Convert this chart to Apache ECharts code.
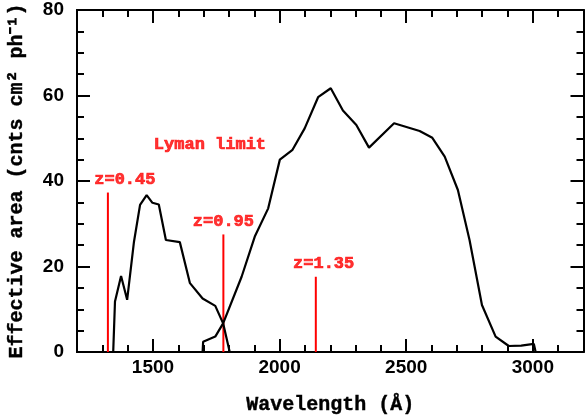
<!DOCTYPE html>
<html>
<head>
<meta charset="utf-8">
<script src="https://cdn.jsdelivr.net/npm/echarts@6/dist/echarts.min.js"></script>
<style>
  html, body { margin: 0; padding: 0; background: #fff; }
  #chart { width: 585px; height: 419px; }
</style>
</head>
<body>
<div id="chart"></div>
<script>
// effective area curves, [wavelength (A), area]
const lowBand = [[1343, 0], [1350, 11.8], [1374, 17.8], [1398, 12.2], [1425, 25.8], [1449, 34.4],
  [1475, 36.7], [1498, 34.9], [1523, 34.5], [1551, 26.2], [1606, 25.7], [1646, 16.1],
  [1696, 12.5], [1746, 10.8], [1777, 6.7], [1803, 0]];
const highBand = [[1696, 0], [1698, 2.4], [1746, 3.6], [1777, 6.7], [1850, 17.6], [1902, 27],
  [1955, 33.6], [2001, 45], [2051, 47.3], [2099, 52.3], [2152, 59.6], [2202, 61.7],
  [2250, 56.5], [2303, 53.1], [2353, 47.8], [2452, 53.5], [2553, 51.7], [2603, 50.1],
  [2652, 45.7], [2704, 37.9], [2750, 26.2], [2799, 11], [2853, 3.6], [2905, 1.4],
  [2954, 1.5], [3004, 1.9], [3011, 0]];

// redshifted Lyman limit markers
const limitNames = ['z=0.45', 'z=0.95', 'z=1.35'];
const limitWave = [1322, 1778, 2143];
const limitTop = [37.3, 27.5, 17.6];
const limitLabelX = [1389, 1778, 2174];
const limitLabelY = [40.2, 30.5, 20.7];
const titleLabel = ['Lyman limit', 1725, 48.4];

const xMajor = [1500, 2000, 2500, 3000];

const black = '#000';
const red = '#ff0000';
const monoBold = { fontFamily: 'Liberation Mono', fontWeight: 'bold' };

function xAx(pos, major, labels) {
  return {
    type: 'value', position: pos, min: 1200, max: 3200, interval: 100,
    axisLine: { show: true, onZero: false, lineStyle: { color: black, width: 2 } },
    axisTick: major
      ? { show: true, inside: true, length: 13, customValues: xMajor, lineStyle: { color: black, width: 2 } }
      : { show: true, inside: true, length: 7, lineStyle: { color: black, width: 2 } },
    axisLabel: labels
      ? { show: true, customValues: xMajor, formatter: function (v) { return String(v); },
          color: black, fontFamily: 'Liberation Sans', fontWeight: 'bold', fontSize: 19, margin: 6 }
      : { show: false },
    splitLine: { show: false },
    name: labels ? 'Wavelength (Å)' : '',
    nameLocation: 'middle', nameGap: 43,
    nameTextStyle: Object.assign({ color: black, fontSize: 20, textBorderColor: black, textBorderWidth: 0.4 }, monoBold)
  };
}

function yAx(pos, labels) {
  return {
    type: 'value', position: pos, min: 0, max: 80, interval: 20,
    axisLine: { show: true, onZero: false, lineStyle: { color: black, width: 2 } },
    axisTick: { show: true, inside: true, length: 13, lineStyle: { color: black, width: 2 } },
    minorTick: { show: true, splitNumber: 4, length: 7, lineStyle: { color: black, width: 2 } },
    axisLabel: labels
      ? { show: true, color: black, fontFamily: 'Liberation Sans', fontWeight: 'bold', fontSize: 19, margin: 13 }
      : { show: false },
    splitLine: { show: false },
    name: labels ? 'Effective area (cnts cm² ph⁻¹)' : '',
    nameLocation: 'middle', nameGap: 50, nameRotate: 90,
    nameTextStyle: Object.assign({ color: black, fontSize: 20, textBorderColor: black, textBorderWidth: 0.4 }, monoBold)
  };
}

const series = [
  { type: 'line', data: lowBand, symbol: 'none', lineStyle: { color: black, width: 2.2 }, z: 3 },
  { type: 'line', data: highBand, symbol: 'none', lineStyle: { color: black, width: 2.2 }, z: 3 }
];
limitWave.forEach(function (w, i) {
  series.push({
    type: 'line', symbol: 'none', z: 2,
    data: [[w, 0], [w, limitTop[i]]],
    lineStyle: { color: red, width: 2 }
  });
});
const labelData = limitNames.map(function (n, i) { return { name: n, value: [limitLabelX[i], limitLabelY[i]] }; });
labelData.push({ name: titleLabel[0], value: [titleLabel[1], titleLabel[2]] });
series.push({
  type: 'scatter', symbolSize: 0, data: labelData, silent: true,
  itemStyle: { color: red },
  label: Object.assign({ show: true, position: 'inside', formatter: '{b}', color: red, fontSize: 17,
    textBorderWidth: 0.7, textBorderColor: red, textShadowBlur: 0 }, monoBold)
});

const chart = echarts.init(document.getElementById('chart'));
chart.setOption({
  animation: false,
  backgroundColor: '#fff',
  grid: { left: 77, right: 1.5, top: 10, bottom: 67, containLabel: false, outerBoundsMode: 'none' },
  xAxis: [xAx('bottom', false, true), xAx('bottom', true, false), xAx('top', false, false), xAx('top', true, false)],
  yAxis: [yAx('left', true), yAx('right', false)],
  series: series
});
</script>
</body>
</html>
